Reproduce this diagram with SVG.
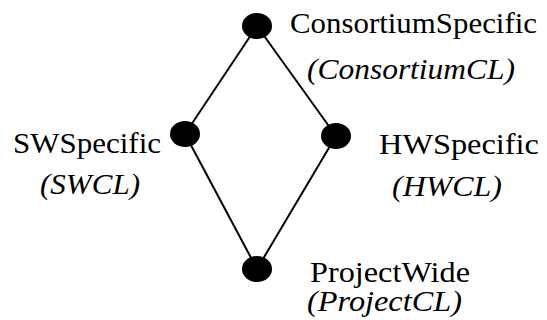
<svg xmlns="http://www.w3.org/2000/svg" width="547" height="320" viewBox="0 0 547 320">
<style>
.n{fill:#000}
.e{stroke:#000;stroke-width:2;fill:none}
.t{font-family:'Liberation Serif','Times New Roman',serif;font-size:29px;fill:#000}
.i{font-style:italic}
</style>
<rect width="547" height="320" fill="#fff"/>
<g id="edges">
<line class="e" x1="257" y1="26" x2="185" y2="134"/>
<line class="e" x1="257" y1="26" x2="336" y2="136"/>
<line class="e" x1="185" y1="134" x2="257" y2="269"/>
<line class="e" x1="336" y1="136" x2="257" y2="269"/>
</g>
<g id="consortium">
<ellipse class="n" cx="257" cy="26" rx="15" ry="13"/>
<text class="t" x="290" y="33" textLength="247" lengthAdjust="spacingAndGlyphs">ConsortiumSpecific</text>
<text class="t i" x="307" y="79" textLength="208" lengthAdjust="spacingAndGlyphs">(ConsortiumCL)</text>
</g>
<g id="sw">
<ellipse class="n" cx="185" cy="134" rx="15" ry="13"/>
<text class="t" x="13" y="153" textLength="148" lengthAdjust="spacingAndGlyphs">SWSpecific</text>
<text class="t i" x="40" y="194" textLength="100" lengthAdjust="spacingAndGlyphs">(SWCL)</text>
</g>
<g id="hw">
<ellipse class="n" cx="336" cy="136" rx="15" ry="13"/>
<text class="t" x="379" y="154" textLength="160" lengthAdjust="spacingAndGlyphs">HWSpecific</text>
<text class="t i" x="392" y="196" textLength="110" lengthAdjust="spacingAndGlyphs">(HWCL)</text>
</g>
<g id="project">
<ellipse class="n" cx="257" cy="269" rx="15" ry="13"/>
<text class="t" x="310" y="282" textLength="160" lengthAdjust="spacingAndGlyphs">ProjectWide</text>
<text class="t i" x="307" y="311" textLength="155" lengthAdjust="spacingAndGlyphs">(ProjectCL)</text>
</g>
</svg>
